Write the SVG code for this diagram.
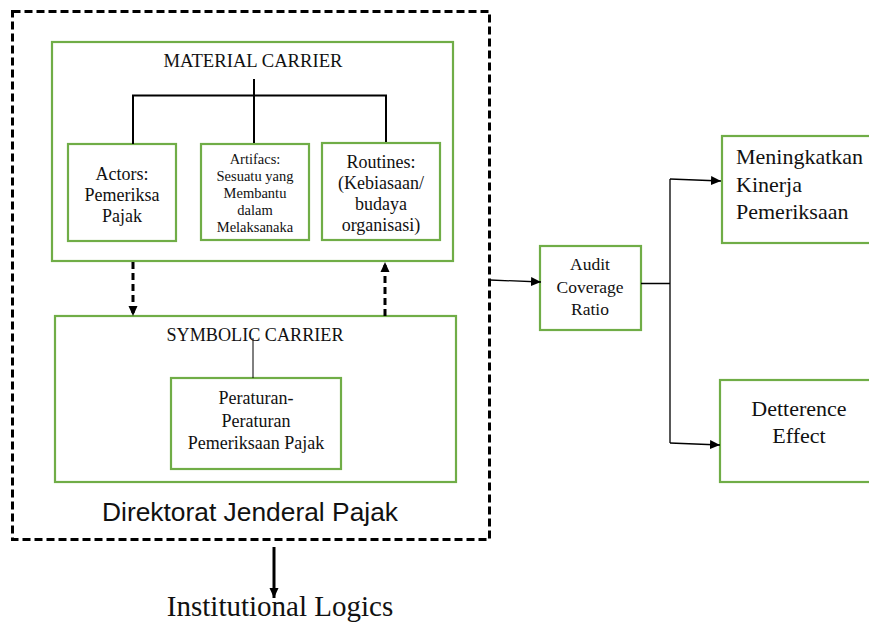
<svg xmlns="http://www.w3.org/2000/svg" width="869" height="623" viewBox="0 0 869 623">
<style>
.box{fill:#fff;stroke:#70AD47;stroke-width:2.2}
.t{font-family:"Liberation Serif","Times New Roman",serif;fill:#111;text-anchor:middle}
.ln{fill:none;stroke:#000}
</style>
<defs>
<marker id="ah" viewBox="0 0 10 10" refX="10" refY="5" markerWidth="10" markerHeight="10" markerUnits="userSpaceOnUse" orient="auto">
<path d="M0,0.5 L10,5 L0,9.5 Z" fill="#000"/>
</marker>
<marker id="ahs" viewBox="0 0 10 10" refX="10" refY="5" markerWidth="14" markerHeight="10" markerUnits="userSpaceOnUse" orient="auto">
<path d="M0,0.5 L10,5 L0,9.5 Z" fill="#000"/>
</marker>
</defs>
<rect width="869" height="623" fill="#fff"/>
<g id="djp">
<rect x="12.5" y="11.5" width="477" height="528" fill="none" stroke="#000" stroke-width="3" stroke-dasharray="8 4"/>
<text x="250" y="521" font-family="Liberation Sans, Arial, sans-serif" font-size="26" text-anchor="middle" fill="#111" textLength="296" lengthAdjust="spacingAndGlyphs">Direktorat Jenderal Pajak</text>
</g>
<g id="material">
<rect class="box" x="52" y="42" width="401" height="219"/>
<text class="t" x="253" y="67" font-size="18" textLength="179" lengthAdjust="spacingAndGlyphs">MATERIAL CARRIER</text>
</g>
<g id="actors">
<rect class="box" x="68" y="144" width="108" height="97"/>
<text class="t" font-size="18"><tspan x="122" y="180">Actors:</tspan><tspan x="122" y="201">Pemeriksa</tspan><tspan x="122" y="222">Pajak</tspan></text>
</g>
<g id="artifacs">
<rect class="box" x="201" y="144" width="108" height="96"/>
<text class="t" font-size="14.5"><tspan x="255" y="164">Artifacs:</tspan><tspan x="255" y="181">Sesuatu yang</tspan><tspan x="255" y="198">Membantu</tspan><tspan x="255" y="215">dalam</tspan><tspan x="255" y="232">Melaksanaka</tspan></text>
</g>
<g id="routines">
<rect class="box" x="322" y="143" width="118" height="97"/>
<text class="t" font-size="18"><tspan x="381" y="168">Routines:</tspan><tspan x="381" y="189">(Kebiasaan/</tspan><tspan x="381" y="210">budaya</tspan><tspan x="381" y="231">organisasi)</tspan></text>
</g>
<g id="symbolic">
<rect class="box" x="55" y="316" width="401" height="166"/>
<text class="t" x="255" y="341" font-size="18" textLength="177" lengthAdjust="spacingAndGlyphs">SYMBOLIC CARRIER</text>
</g>
<g id="peraturan">
<rect class="box" x="171" y="378" width="170" height="91"/>
<text class="t" font-size="18"><tspan x="256" y="404">Peraturan-</tspan><tspan x="256" y="427">Peraturan</tspan><tspan x="256" y="449">Pemeriksaan Pajak</tspan></text>
</g>
<g id="audit">
<rect class="box" x="540" y="246" width="101" height="84"/>
<text class="t" font-size="17.5"><tspan x="590" y="270">Audit</tspan><tspan x="590" y="293">Coverage</tspan><tspan x="590" y="315">Ratio</tspan></text>
</g>
<g id="meningkatkan">
<rect class="box" x="722" y="136" width="170" height="107"/>
<text class="t" font-size="22" text-anchor="start"><tspan x="736" y="164" text-anchor="start">Meningkatkan</tspan><tspan x="736" y="192" text-anchor="start">Kinerja</tspan><tspan x="736" y="219" text-anchor="start">Pemeriksaan</tspan></text>
</g>
<g id="detterence">
<rect class="box" x="720" y="380" width="170" height="102"/>
<text class="t" font-size="22"><tspan x="799" y="416">Detterence</tspan><tspan x="799" y="443">Effect</tspan></text>
</g>
<text class="t" x="280" y="616" font-size="29">Institutional Logics</text>
<g id="connectors">
<path class="ln" stroke-width="2" d="M254,79 V143 M133,144 V95.5 H386 V142"/>
<line class="ln" stroke-width="1" x1="253" y1="338" x2="253" y2="378"/>
<line class="ln" stroke-width="3" stroke-dasharray="7 4" x1="133" y1="262" x2="133" y2="316" marker-end="url(#ahs)"/>
<line class="ln" stroke-width="3" stroke-dasharray="7 4" x1="385" y1="316" x2="385" y2="262" marker-end="url(#ahs)"/>
<line class="ln" stroke-width="3" x1="274" y1="547" x2="274" y2="598" marker-end="url(#ahs)"/>
<line class="ln" stroke-width="1.3" x1="490" y1="280" x2="541" y2="282" marker-end="url(#ah)"/>
<path class="ln" stroke-width="1.3" d="M641,283.5 H670 M670,179 V443"/>
<line class="ln" stroke-width="1.3" x1="670" y1="179" x2="721" y2="181" marker-end="url(#ah)"/>
<line class="ln" stroke-width="1.3" x1="670" y1="443" x2="720" y2="445" marker-end="url(#ah)"/>
</g>
</svg>
